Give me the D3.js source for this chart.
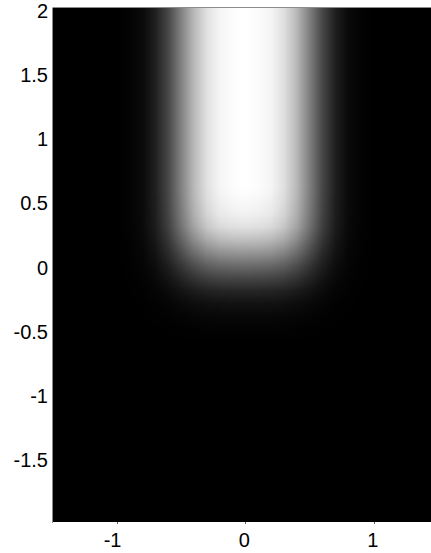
<!DOCTYPE html>
<html>
<head>
    <title>Blurred strip</title>
    <script src="https://d3js.org/d3.v7.min.js"></script>
    <style>
        body { margin: 0; background: #fff; }
        text { font-family: "Liberation Sans", Arial, sans-serif; font-size: 20px; fill: #000; }
    </style>
</head>
<body>
    <script>
        // intensity read across x (any row inside the strip) and down y (centre column)
        const xStops = [-1.5, -1.0, -0.9, -0.8, -0.7, -0.6, -0.5, -0.4, -0.3, -0.2, -0.1, 0, 0.1, 0.2, 0.3, 0.4, 0.5, 0.6, 0.7, 0.8, 0.9, 1.0, 1.5];
        const xLevel = [0, 0, 0.01, 0.04, 0.12, 0.28, 0.5, 0.72, 0.88, 0.96, 0.99, 1, 0.99, 0.96, 0.88, 0.72, 0.5, 0.28, 0.12, 0.04, 0.01, 0, 0];

        const yStops = [2, 0.6, 0.5, 0.4, 0.3, 0.2, 0.1, 0, -0.1, -0.2, -0.3, -0.4, -0.5, -0.6, -2];
        const yLevel = [1, 1, 0.98, 0.95, 0.89, 0.76, 0.6, 0.43, 0.28, 0.15, 0.07, 0.03, 0.01, 0, 0];

        const xTicks = [-1, 0, 1];
        const yTicks = [2, 1.5, 1, 0.5, 0, -0.5, -1, -1.5];

        const W = 431, H = 553;
        const plotLeft = 52.5, plotTop = 8, plotBottom = 522;

        const x = d3.scaleLinear().domain([-1.5, 1.5]).range([plotLeft, plotLeft + 385.5]);
        const y = d3.scaleLinear().domain([-2, 2]).range([plotBottom, plotTop]);

        const svg = d3.select("body").append("svg")
            .attr("width", W)
            .attr("height", H);

        const defs = svg.append("defs");

        // horizontal profile as a gradient in user space
        const x0 = x(xStops[0]), xw = x(xStops[xStops.length - 1]) - x0;
        const gx = defs.append("linearGradient")
            .attr("id", "gx")
            .attr("gradientUnits", "userSpaceOnUse")
            .attr("x1", x0).attr("x2", x0 + xw)
            .attr("y1", 0).attr("y2", 0);
        gx.selectAll("stop")
            .data(xStops)
            .join("stop")
            .attr("offset", d => (x(d) - x0) / xw)
            .attr("stop-color", (d, i) => d3.rgb(xLevel[i] * 255, xLevel[i] * 255, xLevel[i] * 255).formatHex());

        // vertical profile as an opacity mask
        const y0 = y(yStops[0]), yh = y(yStops[yStops.length - 1]) - y0;
        const gy = defs.append("linearGradient")
            .attr("id", "gy")
            .attr("gradientUnits", "userSpaceOnUse")
            .attr("x1", 0).attr("x2", 0)
            .attr("y1", y0).attr("y2", y0 + yh);
        gy.selectAll("stop")
            .data(yStops)
            .join("stop")
            .attr("offset", d => (y(d) - y0) / yh)
            .attr("stop-color", "#fff")
            .attr("stop-opacity", (d, i) => yLevel[i]);

        defs.append("mask")
            .attr("id", "my")
            .attr("maskUnits", "userSpaceOnUse")
            .attr("x", 0).attr("y", 0).attr("width", W).attr("height", H)
            .append("rect")
            .attr("x", x(-1.5)).attr("y", y(2))
            .attr("width", x(1.5) - x(-1.5)).attr("height", y(-2) - y(2))
            .attr("fill", "url(#gy)");

        // black image background
        svg.append("rect")
            .attr("x", x(-1.5)).attr("y", y(2))
            .attr("width", x(1.5) - x(-1.5)).attr("height", y(-2) - y(2))
            .attr("fill", "#000");

        svg.append("rect")
            .attr("x", x(-1.5)).attr("y", y(2))
            .attr("width", x(1.5) - x(-1.5)).attr("height", y(-2) - y(2))
            .attr("fill", "url(#gx)")
            .attr("mask", "url(#my)");

        // frame lines
        svg.append("line")
            .attr("x1", plotLeft).attr("x2", plotLeft)
            .attr("y1", plotTop).attr("y2", plotBottom + 1)
            .attr("stroke", "#8c8c8c").attr("stroke-width", 1);
        svg.append("line")
            .attr("x1", plotLeft).attr("x2", W)
            .attr("y1", plotTop - 0.5).attr("y2", plotTop - 0.5)
            .attr("stroke", "#8c8c8c").attr("stroke-width", 1);

        // x ticks and labels
        svg.selectAll("line.xt")
            .data(xTicks)
            .join("line")
            .attr("class", "xt")
            .attr("x1", d => Math.round(x(d)) + 0.5).attr("x2", d => Math.round(x(d)) + 0.5)
            .attr("y1", plotBottom).attr("y2", plotBottom + 2)
            .attr("stroke", "#666");

        svg.selectAll("text.xl")
            .data(xTicks)
            .join("text")
            .attr("class", "xl")
            .attr("x", d => x(d) + 4.7)
            .attr("y", 546.5)
            .attr("text-anchor", "end")
            .text(d => d);

        // y labels
        svg.selectAll("text.yl")
            .data(yTicks)
            .join("text")
            .attr("class", "yl")
            .attr("x", 48)
            .attr("y", d => y(d) + 9.7)
            .attr("text-anchor", "end")
            .text(d => d);
    </script>
</body>
</html>
